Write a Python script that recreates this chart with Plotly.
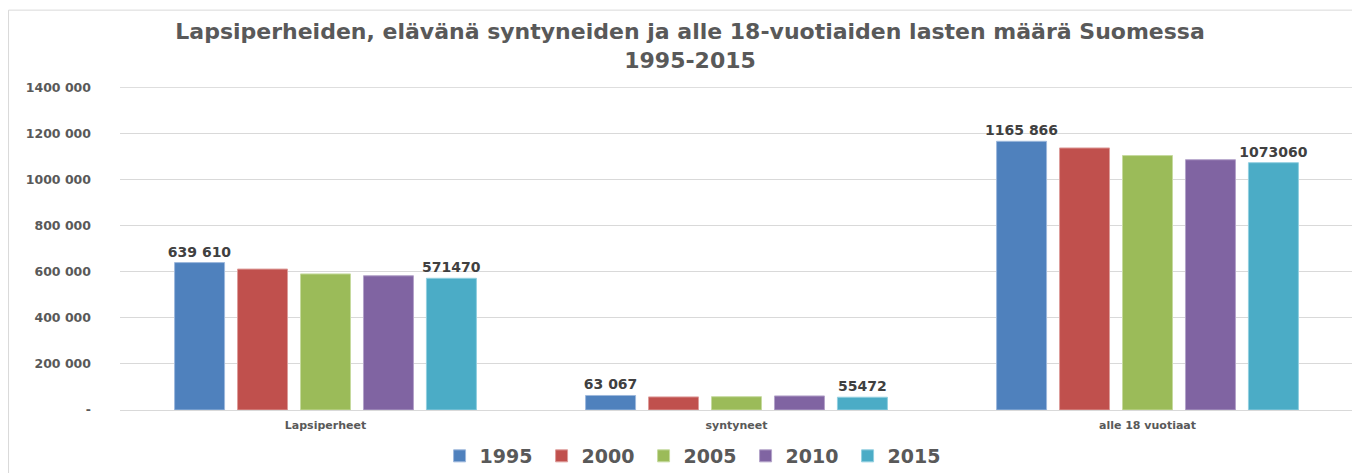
import plotly.graph_objects as go

categories = ["Lapsiperheet", "syntyneet", "alle 18 vuotiaat"]
years = ["1995", "2000", "2005", "2010", "2015"]
values_1995 = [639610, 63067, 1165866]
values_2000 = [611500, 56742, 1137000]
values_2005 = [590500, 57745, 1104000]
values_2010 = [582500, 60980, 1086000]
values_2015 = [571470, 55472, 1073060]
labels_1995 = ["639 610", "63 067", "1165 866"]
labels_2015 = ["571470", "55472", "1073060"]
tick_vals = [0, 200000, 400000, 600000, 800000, 1000000, 1200000, 1400000]
tick_text = ["-", "200 000", "400 000", "600 000", "800 000", "1000 000", "1200 000", "1400 000"]
colors = ["#4F81BD", "#C0504D", "#9BBB59", "#8064A2", "#4BACC6"]
line_colors = ["#9db8dc", "#dd9c9a", "#c6da9f", "#b3a3c9", "#92cfe0"]

series = [values_1995, values_2000, values_2005, values_2010, values_2015]
texts = [labels_1995, None, None, None, labels_2015]

FONT = "DejaVu Sans"
fig = go.Figure()
for i, (yr, vals) in enumerate(zip(years, series)):
    fig.add_trace(go.Bar(
        name=yr, x=categories, y=vals,
        marker=dict(color=colors[i], line=dict(color=line_colors[i], width=1)),
        text=texts[i], textposition="outside" if texts[i] else "none",
        textfont=dict(family=FONT, size=14, color="#404040", weight="bold"),
        constraintext="none",
        cliponaxis=False,
    ))

fig.update_layout(
    width=1360, height=473,
    margin=dict(l=112, r=15, t=79, b=71, autoexpand=False),
    paper_bgcolor="white", plot_bgcolor="white",
    barmode="group", bargap=0.234, bargroupgap=0.206,
    title=dict(
        text="Lapsiperheiden, elävänä syntyneiden ja alle 18-vuotiaiden lasten määrä Suomessa<br>1995-2015",
        xref="container", x=0.5015, xanchor="center",
        yref="container", y=0.934, yanchor="middle",
        font=dict(family=FONT, size=22, color="#595959", weight="bold"),
    ),
    font=dict(family=FONT, color="#595959"),
    legend=dict(
        orientation="h", x=0.466, xanchor="center", y=-0.1424, yanchor="middle",
        font=dict(family=FONT, size=19, color="#595959", weight="bold"),
        itemwidth=30, entrywidth=57,
    ),
    showlegend=True,
    shapes=[
        dict(type="rect", xref="paper", yref="paper",
             x0=-0.0904, x1=1.02, y0=-0.3, y1=1.238,
             line=dict(color="#d9d9d9", width=1), layer="below"),
        dict(type="line", xref="paper", yref="y",
             x0=0, x1=1, y0=tick_vals[-1], y1=tick_vals[-1],
             line=dict(color="#d9d9d9", width=1), layer="below"),
    ],
)
fig.update_yaxes(
    range=[0, 1401500], tickvals=tick_vals, ticktext=tick_text,
    gridcolor="#d9d9d9", gridwidth=1, zeroline=False, automargin=False,
    tickfont=dict(family=FONT, size=12.5, color="#595959", weight="bold"),
    ticklabelstandoff=28,
)
fig.update_xaxes(
    showline=True, linecolor="#d9d9d9", linewidth=1, automargin=False,
    tickfont=dict(family=FONT, size=11, color="#595959", weight="bold"),
    ticklabelstandoff=5,
)
fig.write_html("out.html")
